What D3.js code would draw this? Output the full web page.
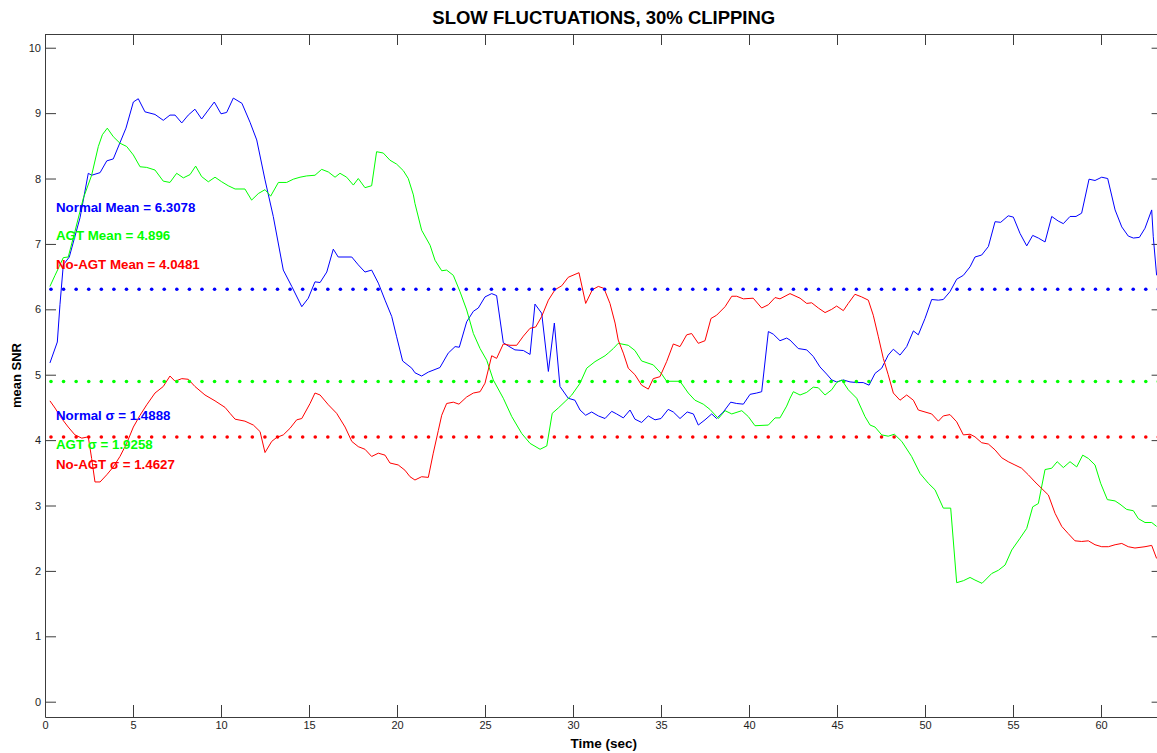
<!DOCTYPE html>
<html>
<head>
<meta charset="utf-8">
<script src="https://cdn.jsdelivr.net/npm/d3@7"></script>
<style>
  html, body { margin: 0; padding: 0; background: #fff; }
  svg { display: block; }
  text { font-family: Arial, "Liberation Sans", Helvetica, sans-serif; }
</style>
</head>
<body>
<svg id="chart" width="1157" height="753"></svg>
<script>
// ---- data -------------------------------------------------------------
const chartTitle = "SLOW FLUCTUATIONS, 30% CLIPPING";
const xLabel = "Time (sec)";
const yLabel = "mean SNR";
const xTicks = [0, 5, 10, 15, 20, 25, 30, 35, 40, 45, 50, 55, 60];
const yTicks = [0, 1, 2, 3, 4, 5, 6, 7, 8, 9, 10];
const xDomain = [0, 63.5];
const yDomain = [-0.234, 10.21];

// Normal (blue)
const tNormal = [0.28,0.70,0.85,1.04,1.38,1.99,2.46,2.65,3.13,3.51,3.88,4.60,5.02,5.30,5.68,6.25,6.72,7.10,7.39,7.77,8.14,8.52,8.90,9.62,10.0,10.32,10.70,11.19,11.65,12.03,12.5,12.97,13.54,14.02,14.59,14.96,15.34,15.63,16.01,16.38,16.66,17.43,17.80,18.18,18.56,18.94,19.32,19.70,19.98,20.32,20.84,21.02,21.40,21.78,22.44,22.91,23.30,23.54,23.96,24.34,24.62,25.0,25.38,25.66,26.04,26.32,26.70,27.18,27.56,27.84,28.22,28.60,28.94,29.26,29.73,30.11,30.40,30.72,31.06,31.44,31.82,32.20,32.48,32.86,33.24,33.52,33.90,34.28,34.66,35.0,35.41,35.70,36.08,36.49,36.84,37.12,37.50,37.88,38.16,38.54,38.96,39.30,39.68,40.06,40.44,40.72,41.10,41.38,41.76,42.14,42.33,42.80,43.28,43.65,44.03,44.41,44.70,44.98,45.36,45.74,46.12,46.49,46.82,47.16,47.54,47.91,48.20,48.58,48.96,49.34,49.62,50.0,50.38,50.76,51.04,51.42,51.80,52.18,52.56,52.84,53.22,53.60,53.98,54.30,54.73,55.02,55.40,55.78,56.12,56.44,56.82,57.20,57.57,57.86,58.24,58.58,58.90,59.32,59.66,60.04,60.38,60.80,61.18,61.55,61.84,62.18,62.50,62.88,62.97,63.16];
const vNormal = [5.18,5.50,6.07,6.68,6.80,7.40,8.08,8.05,8.09,8.27,8.30,8.77,9.17,9.22,9.02,8.98,8.89,8.97,8.97,8.85,8.97,9.06,8.91,9.17,8.99,9.01,9.23,9.15,8.86,8.59,7.98,7.42,6.60,6.35,6.04,6.17,6.42,6.41,6.57,6.92,6.80,6.80,6.68,6.57,6.60,6.40,6.14,5.89,5.58,5.21,5.10,5.03,4.98,5.04,5.11,5.33,5.43,5.42,5.81,5.97,6.02,6.19,6.24,6.21,5.49,5.44,5.38,5.37,5.31,6.08,5.94,5.05,5.79,4.82,4.64,4.61,4.46,4.38,4.43,4.37,4.33,4.44,4.40,4.34,4.46,4.32,4.27,4.37,4.31,4.33,4.47,4.43,4.33,4.43,4.40,4.23,4.31,4.40,4.33,4.43,4.58,4.56,4.55,4.70,4.72,4.74,5.66,5.62,5.52,5.56,5.53,5.40,5.38,5.28,5.12,5.01,4.92,4.89,4.92,4.89,4.88,4.88,4.84,5.02,5.10,5.30,5.39,5.30,5.43,5.67,5.61,5.86,6.15,6.14,6.15,6.27,6.46,6.52,6.65,6.80,6.83,6.96,7.34,7.33,7.43,7.41,7.16,6.97,7.13,7.09,7.03,7.42,7.35,7.31,7.42,7.42,7.47,7.99,7.97,8.02,8.00,7.52,7.26,7.12,7.09,7.10,7.24,7.52,7.11,6.52];

// AGT (green)
const tAGT = [0.28,0.57,0.80,1.04,1.32,1.70,2.18,2.65,3.03,3.26,3.54,3.88,4.26,4.64,5.02,5.40,5.78,6.25,6.72,7.10,7.48,7.86,8.24,8.56,8.90,9.28,9.66,10.04,10.41,10.80,11.36,11.74,12.12,12.5,12.82,13.26,13.73,14.11,14.49,14.87,15.34,15.72,16.10,16.48,16.76,17.14,17.52,17.80,18.18,18.56,18.84,19.22,19.60,19.98,20.36,20.64,20.93,21.02,21.40,21.88,22.16,22.54,22.82,23.20,23.58,23.96,24.34,24.72,25.10,25.47,26.04,26.52,27.09,27.56,28.13,28.51,28.82,29.16,29.55,29.93,30.40,30.78,31.25,31.82,32.0,32.29,32.57,33.14,33.52,33.90,34.56,35.04,35.32,36.08,36.55,36.93,37.40,37.78,38.26,38.64,39.02,39.59,39.96,40.34,41.10,41.48,41.76,42.14,42.33,42.52,42.90,43.28,43.65,43.94,44.32,44.70,44.98,45.27,45.64,46.12,46.59,46.88,47.16,47.54,47.91,48.26,48.68,49.24,49.72,50.19,50.57,51.04,51.46,51.80,52.18,52.56,52.84,53.24,53.79,54.17,54.55,54.93,55.40,55.78,56.12,56.44,56.82,57.20,57.51,57.86,58.24,58.62,58.96,59.28,59.66,59.98,60.36,60.80,61.08,61.46,61.84,62.12,62.50,62.88,63.16];
const vAGT = [6.35,6.52,6.65,6.79,6.80,7.19,7.70,8.05,8.49,8.67,8.77,8.64,8.54,8.49,8.36,8.18,8.17,8.13,7.96,7.94,8.08,8.01,8.06,8.19,8.03,7.95,8.02,7.95,7.89,7.84,7.84,7.67,7.77,7.83,7.73,7.94,7.94,7.99,8.02,8.04,8.05,8.14,8.10,8.02,8.08,8.02,7.90,8.00,7.86,7.89,8.41,8.39,8.28,8.22,8.12,8.00,7.75,7.62,7.21,6.98,6.75,6.59,6.60,6.52,6.27,5.99,5.63,5.40,5.22,4.92,4.64,4.36,4.10,3.95,3.86,3.91,4.41,4.49,4.59,4.69,4.87,5.10,5.20,5.29,5.33,5.40,5.48,5.45,5.37,5.21,5.15,5.01,4.90,4.90,4.72,4.61,4.55,4.47,4.33,4.45,4.40,4.45,4.36,4.22,4.23,4.34,4.34,4.52,4.64,4.74,4.69,4.73,4.81,4.80,4.69,4.77,4.88,4.92,4.77,4.64,4.36,4.23,4.20,4.08,4.06,4.09,3.98,3.75,3.49,3.34,3.24,2.96,2.96,1.82,1.85,1.90,1.86,1.81,1.96,2.01,2.09,2.32,2.50,2.65,2.98,3.03,3.55,3.57,3.67,3.58,3.67,3.59,3.77,3.72,3.62,3.34,3.09,3.07,3.02,2.94,2.92,2.80,2.74,2.74,2.68];

// No-AGT (red)
const tNoAGT = [0.28,0.57,0.95,1.32,1.70,2.09,2.46,2.65,2.84,3.13,3.51,3.88,4.26,4.64,5.02,5.40,5.78,6.25,6.72,7.10,7.39,7.77,8.14,8.52,9.09,9.66,10.23,10.51,10.80,11.36,11.84,12.22,12.5,12.88,13.16,13.54,13.92,14.30,14.59,15.06,15.34,15.63,16.10,16.57,17.05,17.43,17.80,18.18,18.56,18.94,19.32,19.60,20.07,20.45,20.74,21.02,21.40,21.78,22.06,22.35,22.54,22.82,23.20,23.52,23.96,24.34,24.72,25.0,25.38,25.66,26.04,26.42,26.80,27.18,27.56,27.88,28.22,28.60,28.98,29.36,29.73,30.34,30.72,31.10,31.44,31.76,32.10,32.39,32.57,32.86,33.14,33.52,33.90,34.28,34.56,34.94,35.32,35.70,36.08,36.46,36.74,37.12,37.50,37.84,38.16,38.64,39.02,39.30,39.68,40.24,40.72,41.10,41.48,41.76,42.33,42.90,43.28,43.56,43.94,44.32,44.70,44.98,45.36,45.64,46.02,46.40,46.78,47.06,47.35,47.63,47.91,48.20,48.58,48.96,49.34,49.62,50.0,50.38,50.76,51.04,51.42,51.80,52.18,52.56,52.84,53.22,53.60,53.98,54.36,54.73,55.11,55.49,55.87,56.25,56.63,57.01,57.39,57.77,58.14,58.52,58.90,59.28,59.66,60.04,60.42,60.80,61.18,61.55,61.93,62.50,62.88,63.16];
const vNoAGT = [4.60,4.49,4.33,4.20,4.08,4.03,4.05,3.72,3.36,3.36,3.47,3.59,3.75,3.95,4.20,4.38,4.54,4.72,4.82,4.98,4.90,4.94,4.93,4.82,4.69,4.60,4.50,4.41,4.32,4.29,4.23,4.13,3.81,3.98,4.04,4.08,4.18,4.31,4.33,4.56,4.72,4.69,4.54,4.41,4.20,3.98,3.90,3.86,3.75,3.80,3.77,3.65,3.62,3.54,3.44,3.39,3.44,3.43,3.80,4.15,4.38,4.56,4.58,4.55,4.66,4.72,4.74,4.87,5.29,5.25,5.47,5.45,5.45,5.59,5.71,5.73,5.89,6.14,6.30,6.36,6.49,6.56,6.09,6.30,6.35,6.32,6.09,5.79,5.53,5.33,5.10,5.00,4.84,4.78,4.94,4.97,5.20,5.47,5.43,5.61,5.63,5.48,5.52,5.86,5.91,6.04,6.20,6.20,6.16,6.17,6.02,6.07,6.18,6.16,6.24,6.17,6.09,6.10,6.02,5.95,6.00,6.05,5.98,6.09,6.23,6.19,6.14,5.91,5.58,5.25,5.00,4.72,4.61,4.69,4.61,4.46,4.43,4.40,4.29,4.37,4.39,4.28,4.08,4.09,4.05,3.96,3.94,3.85,3.73,3.67,3.62,3.57,3.47,3.36,3.26,3.16,2.88,2.68,2.57,2.46,2.45,2.46,2.40,2.37,2.37,2.40,2.42,2.37,2.35,2.37,2.39,2.19];

// mean and standard deviation of each curve
const seriesNames = ["Normal", "AGT", "No-AGT"];
const seriesColors = ["#0000ff", "#00ff00", "#ff0000"];
const seriesMeans = [6.3078, 4.896, 4.0481];
const seriesSigmas = [1.4888, 1.9258, 1.4627];
const meanLabels = ["Normal Mean = 6.3078", "AGT Mean = 4.896", "No-AGT Mean = 4.0481"];
const sigmaLabels = ["Normal \u03c3 = 1.4888", "AGT \u03c3 = 1.9258", "No-AGT \u03c3 = 1.4627"];

// ---- layout -----------------------------------------------------------
const W = 1157, H = 753;
const plot = { left: 45, top: 34, right: 1162.6, bottom: 717 };
const FONT = "Arial, 'Liberation Sans', Helvetica, sans-serif";

const svg = d3.select("#chart");
const x = d3.scaleLinear().domain(xDomain).range([plot.left, plot.right]);
const y = d3.scaleLinear().domain(yDomain).range([plot.bottom, plot.top]);

svg.append("rect").attr("width", W).attr("height", H).attr("fill", "#fff");

svg.append("defs").append("clipPath").attr("id", "plotClip")
  .append("rect")
  .attr("x", plot.left).attr("y", plot.top)
  .attr("width", plot.right - plot.left).attr("height", plot.bottom - plot.top);

const axisColor = "#3c3c3c";

function styleAxis(g) {
  g.selectAll("path.domain").attr("stroke", axisColor).attr("stroke-width", 1);
  g.selectAll(".tick line").attr("stroke", axisColor).attr("stroke-width", 1);
  g.selectAll(".tick text").attr("fill", "#1e1e1e")
    .style("font-size", "11px")
    .style("font-family", FONT);
}

// bottom
svg.append("g")
  .attr("transform", `translate(0,${plot.bottom})`)
  .call(d3.axisBottom(x).tickValues(xTicks).tickFormat(d3.format("d"))
    .tickSizeInner(-12).tickSizeOuter(0).tickPadding(4))
  .call(styleAxis);
// top
svg.append("g")
  .attr("transform", `translate(0,${plot.top})`)
  .call(d3.axisTop(x).tickValues(xTicks).tickFormat("")
    .tickSizeInner(-11).tickSizeOuter(0))
  .call(styleAxis);
// left
svg.append("g")
  .attr("transform", `translate(${plot.left},0)`)
  .call(d3.axisLeft(y).tickValues(yTicks).tickFormat(d3.format("d"))
    .tickSizeInner(-11).tickSizeOuter(0).tickPadding(4))
  .call(styleAxis);
// right
svg.append("g")
  .attr("transform", `translate(${plot.right},0)`)
  .call(d3.axisRight(y).tickValues(yTicks).tickFormat("")
    .tickSizeInner(-11).tickSizeOuter(0))
  .call(styleAxis);

// ---- curves -----------------------------------------------------------
const line = d3.line().x(d => x(d[0])).y(d => y(d[1]));
const curves = [
  d3.zip(tNormal, vNormal),
  d3.zip(tAGT, vAGT),
  d3.zip(tNoAGT, vNoAGT)
];

const plotG = svg.append("g").attr("clip-path", "url(#plotClip)");
curves.forEach((pts, i) => {
  plotG.append("path")
    .datum(pts)
    .attr("fill", "none")
    .attr("stroke", seriesColors[i])
    .attr("stroke-width", 1)
    .attr("stroke-linejoin", "round")
    .attr("d", line);
});

// dotted mean lines (point markers at regular sample times)
const dotTimes = d3.range(0.34, 63.3, 0.715);
seriesMeans.forEach((m, i) => {
  plotG.append("g").selectAll("circle")
    .data(dotTimes)
    .join("circle")
    .attr("cx", d => x(d))
    .attr("cy", y(m))
    .attr("r", 1.8)
    .attr("fill", seriesColors[i]);
});

// ---- annotations ------------------------------------------------------
const labelFont = `bold 13.3px ${FONT}`;
const meanBaselines = [211.5, 240, 269];
const sigmaBaselines = [420, 449, 468.5];
meanLabels.forEach((t, i) => {
  svg.append("text")
    .attr("x", 56).attr("y", meanBaselines[i])
    .attr("fill", seriesColors[i])
    .style("font", labelFont)
    .text(t);
});
sigmaLabels.forEach((t, i) => {
  svg.append("text")
    .attr("x", 56).attr("y", sigmaBaselines[i])
    .attr("fill", seriesColors[i])
    .style("font", labelFont)
    .text(t);
});

// title and axis labels
svg.append("text")
  .attr("x", (plot.left + plot.right) / 2).attr("y", 24)
  .attr("text-anchor", "middle")
  .style("font", `bold 18.5px ${FONT}`)
  .attr("fill", "#000")
  .text(chartTitle);

svg.append("text")
  .attr("x", (plot.left + plot.right) / 2).attr("y", 748)
  .attr("text-anchor", "middle")
  .style("font", `bold 13.5px ${FONT}`)
  .attr("fill", "#000")
  .text(xLabel);

svg.append("text")
  .attr("transform", `translate(21,${(plot.top + plot.bottom) / 2}) rotate(-90)`)
  .attr("text-anchor", "middle")
  .style("font", `bold 13px ${FONT}`)
  .attr("fill", "#000")
  .text(yLabel);
</script>
</body>
</html>
